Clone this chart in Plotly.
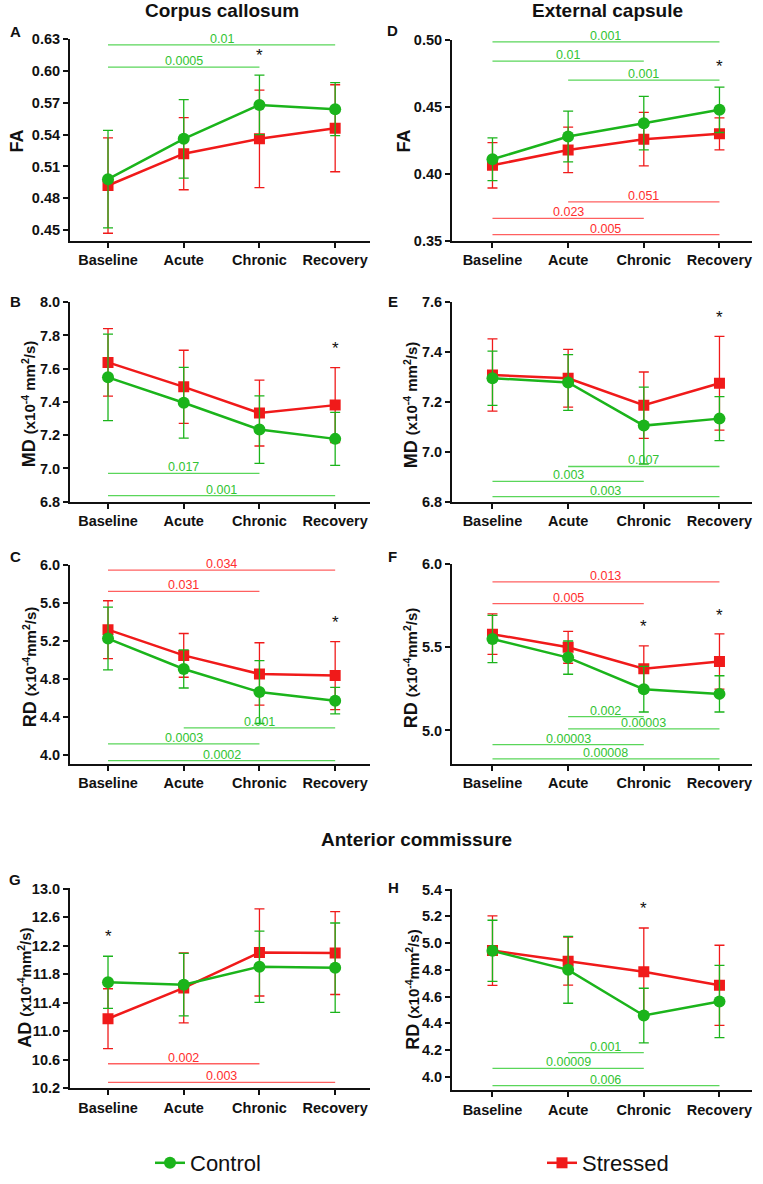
import plotly.graph_objects as go

W, H = 763, 1184
GREEN = "#1bb41b"
RED = "#f01a1a"
GREEN_LIGHT = "#5ad65a"
RED_LIGHT = "#ff6060"
GREEN_TEXT = "#33c433"
RED_TEXT = "#ff2e2e"
FONT = "Liberation Sans, Arial, sans-serif"

CATEGORIES = ["Baseline", "Acute", "Chronic", "Recovery"]

# A: corpus callosum FA
A_CONTROL = [0.498, 0.536, 0.568, 0.564]
A_CONTROL_SD = [0.046, 0.037, 0.028, 0.025]
A_STRESSED = [0.492, 0.522, 0.536, 0.546]
A_STRESSED_SD = [0.045, 0.034, 0.046, 0.041]
A_BRACKETS = [("Baseline", "Recovery", 0.6247, "0.01", "c"),
              ("Baseline", "Chronic", 0.6037, "0.0005", "c")]
A_STARS = [("Chronic", 0.615)]

# D: external capsule FA
D_CONTROL = [0.411, 0.428, 0.438, 0.448]
D_CONTROL_SD = [0.016, 0.019, 0.020, 0.017]
D_STRESSED = [0.4065, 0.418, 0.426, 0.430]
D_STRESSED_SD = [0.017, 0.017, 0.020, 0.012]
D_BRACKETS = [("Baseline", "Recovery", 0.4988, "0.001", "c"),
              ("Baseline", "Chronic", 0.4844, "0.01", "c"),
              ("Acute", "Recovery", 0.4702, "0.001", "c"),
              ("Acute", "Recovery", 0.3792, "0.051", "s"),
              ("Baseline", "Chronic", 0.3668, "0.023", "s"),
              ("Baseline", "Recovery", 0.3547, "0.005", "s")]
D_STARS = [("Recovery", 0.4802)]

# B: corpus callosum MD
B_CONTROL = [7.548, 7.395, 7.234, 7.178]
B_CONTROL_SD = [0.26, 0.213, 0.203, 0.159]
B_STRESSED = [7.638, 7.491, 7.333, 7.381]
B_STRESSED_SD = [0.203, 0.22, 0.198, 0.225]
B_BRACKETS = [("Baseline", "Chronic", 6.971, "0.017", "c"),
              ("Baseline", "Recovery", 6.836, "0.001", "c")]
B_STARS = [("Recovery", 7.72)]

# E: external capsule MD
E_CONTROL = [7.295, 7.278, 7.105, 7.133]
E_CONTROL_SD = [0.109, 0.112, 0.154, 0.088]
E_STRESSED = [7.308, 7.295, 7.187, 7.275]
E_STRESSED_SD = [0.145, 0.116, 0.133, 0.188]
E_BRACKETS = [("Acute", "Recovery", 6.941, "0.007", "c"),
              ("Baseline", "Chronic", 6.881, "0.003", "c"),
              ("Baseline", "Recovery", 6.820, "0.003", "c")]
E_STARS = [("Recovery", 7.54)]

# C: corpus callosum RD
C_CONTROL = [5.226, 4.906, 4.663, 4.573]
C_CONTROL_SD = [0.33, 0.2, 0.33, 0.139]
C_STRESSED = [5.319, 5.049, 4.854, 4.837]
C_STRESSED_SD = [0.304, 0.23, 0.328, 0.357]
C_BRACKETS = [("Baseline", "Recovery", 5.944, "0.034", "s"),
              ("Baseline", "Chronic", 5.722, "0.031", "s"),
              ("Acute", "Recovery", 4.288, "0.001", "c"),
              ("Baseline", "Chronic", 4.118, "0.0003", "c"),
              ("Baseline", "Recovery", 3.944, "0.0002", "c")]
C_STARS = [("Recovery", 5.39)]

# F: external capsule RD
F_CONTROL = [5.550, 5.438, 5.248, 5.220]
F_CONTROL_SD = [0.142, 0.1, 0.137, 0.109]
F_STRESSED = [5.579, 5.500, 5.371, 5.415]
F_STRESSED_SD = [0.122, 0.096, 0.137, 0.166]
F_BRACKETS = [("Baseline", "Recovery", 5.893, "0.013", "s"),
              ("Baseline", "Chronic", 5.762, "0.005", "s"),
              ("Acute", "Chronic", 5.083, "0.002", "c"),
              ("Acute", "Recovery", 5.010, "0.00003", "c"),
              ("Baseline", "Chronic", 4.915, "0.00003", "c"),
              ("Baseline", "Recovery", 4.829, "0.00008", "c")]
F_STARS = [("Chronic", 5.623), ("Recovery", 5.694)]

# G: anterior commissure AD
G_CONTROL = [11.686, 11.653, 11.904, 11.890]
G_CONTROL_SD = [0.365, 0.437, 0.50, 0.627]
G_STRESSED = [11.175, 11.607, 12.104, 12.095]
G_STRESSED_SD = [0.42, 0.49, 0.61, 0.58]
G_BRACKETS = [("Baseline", "Chronic", 10.544, "0.002", "s"),
              ("Baseline", "Recovery", 10.284, "0.003", "s")]
G_STARS = [("Baseline", 12.33)]

# H: anterior commissure RD
H_CONTROL = [4.942, 4.800, 4.458, 4.563]
H_CONTROL_SD = [0.229, 0.25, 0.204, 0.27]
H_STRESSED = [4.944, 4.865, 4.786, 4.684]
H_STRESSED_SD = [0.26, 0.18, 0.327, 0.30]
H_BRACKETS = [("Acute", "Chronic", 4.181, "0.001", "c"),
              ("Baseline", "Chronic", 4.062, "0.00009", "c"),
              ("Baseline", "Recovery", 3.933, "0.006", "c")]
H_STARS = [("Chronic", 5.259)]

UNIT = "(x10<sup>-4</sup> mm<sup>2</sup>/s)"
UNIT_TIGHT = "(x10<sup>-4</sup>mm<sup>2</sup>/s)"

# layout per panel: letter, data, y title, column, y px domain (top, bottom),
# y range, tick0, dtick, tick format, letter pos, y-title pos
PANELS = [
    ("A", A_CONTROL, A_CONTROL_SD, A_STRESSED, A_STRESSED_SD, A_BRACKETS, A_STARS,
     "FA", "", "L", (39, 242), [0.4397, 0.6303], 0.45, 0.03, ".2f", (15, 32), (17, 142)),
    ("D", D_CONTROL, D_CONTROL_SD, D_STRESSED, D_STRESSED_SD, D_BRACKETS, D_STARS,
     "FA", "", "R", (40, 242), [0.3499, 0.5003], 0.35, 0.05, ".2f", (392, 31), (404, 142)),
    ("B", B_CONTROL, B_CONTROL_SD, B_STRESSED, B_STRESSED_SD, B_BRACKETS, B_STARS,
     "MD", UNIT, "L", (303, 504), [6.799, 8.003], 6.8, 0.2, ".1f", (15, 303), (29, 406)),
    ("E", E_CONTROL, E_CONTROL_SD, E_STRESSED, E_STRESSED_SD, E_BRACKETS, E_STARS,
     "MD", UNIT, "R", (303, 504), [6.799, 7.602], 6.8, 0.2, ".1f", (393, 303), (411, 407)),
    ("C", C_CONTROL, C_CONTROL_SD, C_STRESSED, C_STRESSED_SD, C_BRACKETS, C_STARS,
     "RD", UNIT_TIGHT, "L", (567, 767), [3.91, 6.003], 4.0, 0.4, ".1f", (15, 559), (30, 670)),
    ("F", F_CONTROL, F_CONTROL_SD, F_STRESSED, F_STRESSED_SD, F_BRACKETS, F_STARS,
     "RD", UNIT_TIGHT, "R", (566, 767), [4.80, 6.003], 5.0, 0.5, ".1f", (392, 559), (411, 671)),
    ("G", G_CONTROL, G_CONTROL_SD, G_STRESSED, G_STRESSED_SD, G_BRACKETS, G_STARS,
     "AD", UNIT_TIGHT, "L", (892, 1093), [10.199, 13.004], 10.2, 0.4, ".1f", (15, 883), (25, 992)),
    ("H", H_CONTROL, H_CONTROL_SD, H_STRESSED, H_STRESSED_SD, H_BRACKETS, H_STARS,
     "RD", UNIT_TIGHT, "R", (893, 1095), [3.898, 5.403], 4.0, 0.2, ".1f", (393, 891), (413, 994)),
]

COLS = {"L": ((70, 370), [-0.502, 3.46]), "R": ((452, 752), [-0.535, 3.43])}


def px(x, y):
    return x / W, 1 - y / H


fig = go.Figure()
annotations = []
shapes = []
layout_axes = {}

for i, (letter, cm, csd, sm, ssd, brackets, stars, ylab, unit, col,
        ydom, yrange, t0, dt, fmt, lpos, tpos) in enumerate(PANELS, start=1):
    xa = "x" if i == 1 else f"x{i}"
    ya = "y" if i == 1 else f"y{i}"
    xdom_px, xrange = COLS[col]
    xidx = list(range(len(CATEGORIES)))

    fig.add_trace(go.Scatter(
        x=xidx, y=sm, xaxis=xa, yaxis=ya, mode="lines+markers", name="Stressed",
        legend="legend2", showlegend=(i == 1),
        line=dict(color=RED, width=2.5),
        marker=dict(symbol="square", size=11, color=RED),
        error_y=dict(type="data", array=ssd, color=RED, thickness=1.3, width=5),
    ))
    fig.add_trace(go.Scatter(
        x=xidx, y=cm, xaxis=xa, yaxis=ya, mode="lines+markers", name="Control",
        legend="legend", showlegend=(i == 1),
        line=dict(color=GREEN, width=2.5),
        marker=dict(symbol="circle", size=12, color=GREEN),
        error_y=dict(type="data", array=csd, color=GREEN, thickness=1.3, width=5),
    ))

    for start, end, level, label, grp in brackets:
        x0, x1 = CATEGORIES.index(start), CATEGORIES.index(end)
        lc = GREEN_LIGHT if grp == "c" else RED_LIGHT
        tc = GREEN_TEXT if grp == "c" else RED_TEXT
        shapes.append(dict(type="line", xref=xa, yref=ya, x0=x0, x1=x1,
                           y0=level, y1=level, line=dict(color=lc, width=1.3)))
        annotations.append(dict(xref=xa, yref=ya, x=(x0 + x1) / 2, y=level,
                                text=label, showarrow=False, yanchor="bottom",
                                yshift=-3, font=dict(size=12.5, color=tc, family=FONT)))
    for cat, level in stars:
        annotations.append(dict(xref=xa, yref=ya, x=CATEGORIES.index(cat), y=level,
                                text="*", showarrow=False, yanchor="middle",
                                font=dict(size=17, color="#111111", family=FONT)))

    lx, ly = px(*lpos)
    annotations.append(dict(xref="paper", yref="paper", x=lx, y=ly, text=f"<b>{letter}</b>",
                            showarrow=False, xanchor="center", yanchor="middle",
                            font=dict(size=15, color="#111111", family=FONT)))
    title = f"<b>{ylab}</b>"
    if unit:
        title += f" <span style='font-size:15px'><b>{unit}</b></span>"
    tx, ty = px(*tpos)
    annotations.append(dict(xref="paper", yref="paper", x=tx, y=ty, text=title,
                            textangle=-90, showarrow=False, xanchor="center",
                            yanchor="middle", font=dict(size=18, color="#111111", family=FONT)))

    axis_common = dict(showline=True, linecolor="#111111", linewidth=2, ticks="outside",
                       ticklen=5, tickwidth=2, tickcolor="#111111", showgrid=False,
                       zeroline=False, automargin=False,
                       tickfont=dict(size=14.5, color="#111111", family=FONT, weight="bold"))
    layout_axes["xaxis" if i == 1 else f"xaxis{i}"] = dict(
        axis_common, domain=[xdom_px[0] / W, xdom_px[1] / W], range=xrange,
        anchor=ya, tickmode="array", tickvals=xidx, ticktext=CATEGORIES)
    layout_axes["yaxis" if i == 1 else f"yaxis{i}"] = dict(
        axis_common, domain=[1 - ydom[1] / H, 1 - ydom[0] / H], range=yrange,
        anchor=xa, tick0=t0, dtick=dt, tickformat=fmt)

for text, pos in [("Corpus callosum", (222, 11)), ("External capsule", (607, 11)),
                  ("Anterior commissure", (416, 843))]:
    x, y = px(*pos)
    annotations.append(dict(xref="paper", yref="paper", x=x, y=y, text=f"<b>{text}</b>",
                            showarrow=False, xanchor="center", yanchor="middle",
                            font=dict(size=19, color="#111111", family=FONT)))

legend_style = dict(orientation="h", xanchor="left", y=1 - 1168 / H, yanchor="middle",
                    font=dict(size=22, family=FONT, color="#111111"),
                    bgcolor="rgba(0,0,0,0)")

fig.update_layout(
    width=W, height=H,
    margin=dict(l=0, r=0, t=0, b=0),
    paper_bgcolor="white", plot_bgcolor="white",
    font=dict(family=FONT, color="#111111"),
    annotations=annotations, shapes=shapes,
    showlegend=True,
    legend=dict(legend_style, x=150 / W),
    legend2=dict(legend_style, x=542 / W),
    **layout_axes,
)

fig.write_html("out.html", config={"displayModeBar": False},
               post_script="document.body.style.margin='0px';")
